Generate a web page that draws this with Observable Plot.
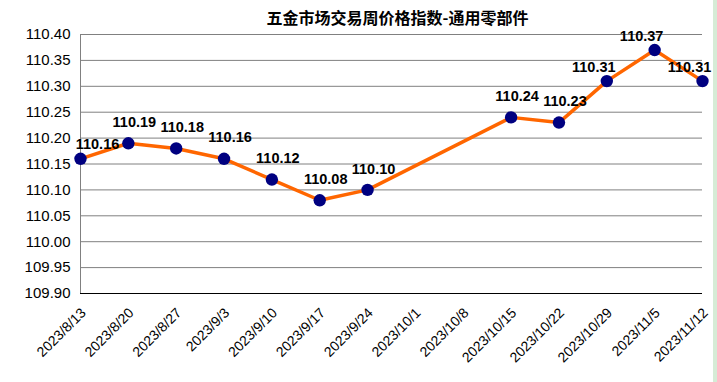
<!DOCTYPE html>
<html>
<head>
<meta charset="utf-8">
<script src="https://cdn.jsdelivr.net/npm/d3@7"></script>
<script src="https://cdn.jsdelivr.net/npm/@observablehq/plot@0.6"></script>
<style>
  html, body { margin: 0; padding: 0; background: #fff; }
  #wrap { position: relative; width: 717px; height: 382px; overflow: hidden; }
  #title { position: absolute; left: 0; width: 795px; top: 6px; text-align: center;
    font-family: "Noto Sans CJK SC", sans-serif; font-weight: bold; font-size: 16px; color: #000; line-height: 22px; }
  #strip { position: absolute; left: 713px; top: 0; width: 4px; height: 382px; background: #d6ecd6; }
</style>
</head>
<body>
<div id="wrap">
  <div id="chart"></div>
  <div id="title">五金市场交易周价格指数-通用零部件</div>
  <div id="strip"></div>
</div>
<script>
const dates = ["2023/8/13","2023/8/20","2023/8/27","2023/9/3","2023/9/10","2023/9/17","2023/9/24","2023/10/1","2023/10/8","2023/10/15","2023/10/22","2023/10/29","2023/11/5","2023/11/12"];
const valueDates = ["2023/8/13","2023/8/20","2023/8/27","2023/9/3","2023/9/10","2023/9/17","2023/9/24","2023/10/15","2023/10/22","2023/10/29","2023/11/5","2023/11/12"];
const values = [110.16,110.19,110.18,110.16,110.12,110.08,110.10,110.24,110.23,110.31,110.37,110.31];
const yTicks = [109.90,109.95,110.00,110.05,110.10,110.15,110.20,110.25,110.30,110.35,110.40];

const data = valueDates.map((d, i) => ({date: d, value: values[i]}));
const labelOpts = {x: "date", y: "value", text: d => d.value.toFixed(2), fontWeight: "bold", fontSize: 14.5, fill: "#000"};

const chart = Plot.plot({
  width: 717,
  height: 382,
  marginLeft: 80,
  marginRight: 15,
  marginTop: 34,
  marginBottom: 89,
  style: {fontFamily: "'Liberation Sans', Arial, sans-serif", fontSize: "14px", color: "#000", background: "transparent"},
  x: {type: "point", domain: dates, padding: 0, round: false, label: null},
  y: {domain: [109.90, 110.40], label: null},
  marks: [
    Plot.ruleY(yTicks.slice(1), {stroke: "#808080", strokeWidth: 1}),
    Plot.ruleX([dates[0]], {stroke: "#808080", strokeWidth: 1}),
    Plot.ruleY([109.90], {stroke: "#000", strokeWidth: 1.2}),
    Plot.axisY({ticks: yTicks, tickSize: 0, tickPadding: 10, tickFormat: d => d.toFixed(2), fontSize: 15, style: "letter-spacing:0.5px", label: null}),
    Plot.axisX({tickSize: 0, tickRotate: -45, fontSize: 14, tickPadding: 10, dx: 3, dy: 7, label: null}),
    Plot.line(data, {x: "date", y: "value", stroke: "#FF6600", strokeWidth: 3.5}),
    Plot.dot(data, {x: "date", y: "value", r: 6.2, fill: "#000080", stroke: "none"}),
    Plot.text(data.slice(0, 1), {...labelOpts, dx: 17, dy: -14}),
    Plot.text(data.slice(1, 9), {...labelOpts, dx: 6, dy: -21}),
    Plot.text(data.slice(9), {...labelOpts, dx: -13, dy: -14})
  ]
});
document.getElementById("chart").appendChild(chart);
</script>
</body>
</html>
